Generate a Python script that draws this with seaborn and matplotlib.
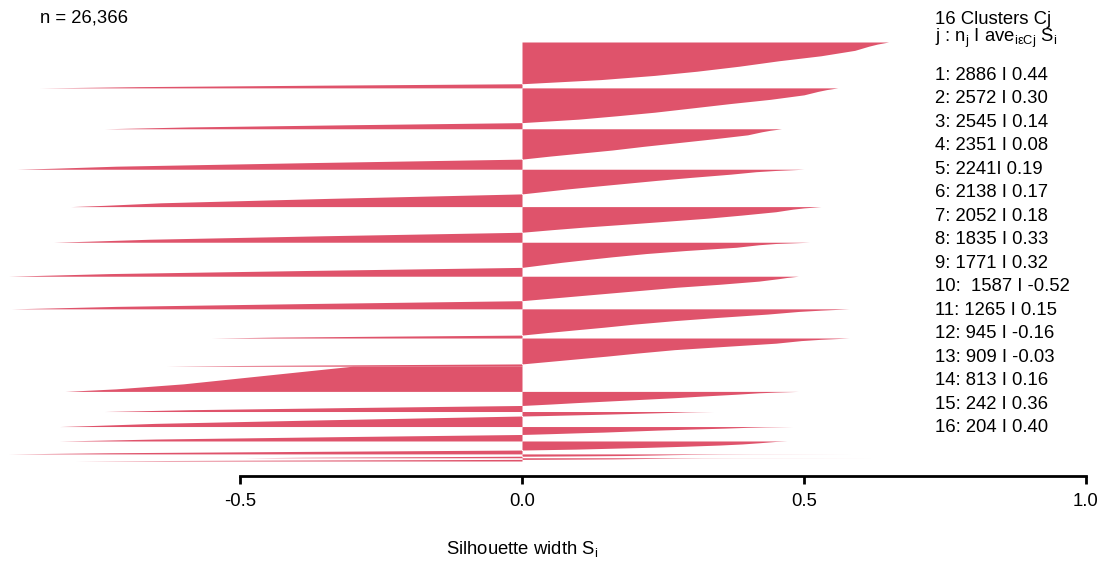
import matplotlib
matplotlib.use("Agg")
import matplotlib.pyplot as plt
import seaborn as sns

# cluster sizes n_j (from the legend)
sizes = [2886, 2572, 2545, 2351, 2241, 2138, 2052, 1835, 1771, 1587, 1265, 945, 909, 813, 242, 204]

legend_lines = ["1: 2886 I 0.44", "2: 2572 I 0.30", "3: 2545 I 0.14", "4: 2351 I 0.08",
                "5: 2241I 0.19", "6: 2138 I 0.17", "7: 2052 I 0.18", "8: 1835 I 0.33",
                "9: 1771 I 0.32", "10:  1587 I -0.52", "11: 1265 I 0.15", "12: 945 I -0.16",
                "13: 909 I -0.03", "14: 813 I 0.16", "15: 242 I 0.36", "16: 204 I 0.40"]

# share of each cluster with positive silhouette
pos_share = [0.91, 0.85, 0.75, 0.66, 0.72, 0.74, 0.75, 0.90, 0.92, 0.0, 0.70, 0.30, 0.55, 0.70, 0.60, 0.50]

# sorted silhouette widths read at fractions of the positive part
pos_grid = [0.0, 0.05, 0.1, 0.2, 0.33, 0.45, 0.58, 0.7, 0.8, 0.9, 1.0]
pos_vals = [
    [0.65, 0.63, 0.615, 0.59, 0.53, 0.455, 0.385, 0.31, 0.235, 0.14, 0.0],
    [0.56, 0.54, 0.525, 0.50, 0.44, 0.37, 0.30, 0.235, 0.17, 0.10, 0.0],
    [0.46, 0.44, 0.425, 0.40, 0.34, 0.28, 0.215, 0.16, 0.105, 0.05, 0.0],
    [0.50, 0.45, 0.415, 0.37, 0.30, 0.24, 0.18, 0.125, 0.08, 0.04, 0.0],
    [0.53, 0.50, 0.48, 0.45, 0.39, 0.33, 0.25, 0.175, 0.11, 0.053, 0.0],
    [0.51, 0.45, 0.42, 0.38, 0.29, 0.22, 0.16, 0.11, 0.07, 0.035, 0.0],
    [0.49, 0.47, 0.455, 0.42, 0.35, 0.275, 0.21, 0.15, 0.10, 0.05, 0.0],
    [0.58, 0.53, 0.49, 0.435, 0.345, 0.27, 0.20, 0.145, 0.095, 0.046, 0.0],
    [0.58, 0.53, 0.495, 0.45, 0.355, 0.27, 0.205, 0.15, 0.10, 0.05, 0.0],
    [],
    [0.49, 0.45, 0.42, 0.38, 0.32, 0.27, 0.205, 0.145, 0.095, 0.05, 0.0],
    [0.34, 0.31, 0.29, 0.265, 0.225, 0.19, 0.15, 0.11, 0.075, 0.04, 0.0],
    [0.48, 0.43, 0.40, 0.36, 0.295, 0.24, 0.19, 0.145, 0.095, 0.05, 0.0],
    [0.47, 0.45, 0.44, 0.42, 0.39, 0.35, 0.29, 0.225, 0.16, 0.095, 0.0],
    [0.59, 0.41, 0.35, 0.30, 0.265, 0.24, 0.21, 0.18, 0.13, 0.07, 0.0],
    [0.63, 0.38, 0.32, 0.28, 0.245, 0.22, 0.19, 0.16, 0.11, 0.06, 0.0],
]

# ... and at fractions of the negative part
neg_grid = [0.0, 0.35, 0.7, 0.9, 1.0]
neg_vals = [
    [0.0, -0.36, -0.68, -0.79, -0.855],
    [0.0, -0.31, -0.59, -0.69, -0.74],
    [0.0, -0.38, -0.72, -0.83, -0.895],
    [0.0, -0.34, -0.64, -0.74, -0.80],
    [0.0, -0.35, -0.66, -0.77, -0.83],
    [0.0, -0.38, -0.73, -0.85, -0.91],
    [0.0, -0.38, -0.72, -0.84, -0.905],
    [0.0, -0.23, -0.44, -0.51, -0.55],
    [0.0, -0.26, -0.50, -0.59, -0.63],
    [-0.30, -0.45, -0.60, -0.72, -0.81],
    [0.0, -0.31, -0.59, -0.69, -0.74],
    [0.0, -0.34, -0.65, -0.76, -0.82],
    [0.0, -0.34, -0.65, -0.76, -0.82],
    [0.0, -0.38, -0.73, -0.85, -0.91],
    [0.0, -0.20, -0.39, -0.46, -0.49],
    [0.0, -0.33, -0.63, -0.74, -0.79],
]

red = "#DF536B"

sns.set_theme(style="white")
plt.rcParams["font.family"] = ["Liberation Sans", "DejaVu Sans"]
plt.rcParams["text.color"] = "black"
plt.rcParams["mathtext.fontset"] = "custom"
plt.rcParams["mathtext.rm"] = "Liberation Sans"
plt.rcParams["mathtext.it"] = "Liberation Sans:italic"

W, H = 1108, 562
fig = plt.figure(figsize=(W / 100, H / 100), dpi=100)
ax = fig.add_axes([0, (H - 461) / H, 1, 419 / H])

total = sum(sizes)
start = 0
for j in range(len(sizes)):
    n = sizes[j]
    npos = pos_share[j] * n
    ys, xs = [], []
    if pos_vals[j]:
        ys += [start + p * npos for p in pos_grid]
        xs += pos_vals[j]
    ys += [start + npos + q * (n - npos) for q in neg_grid]
    xs += neg_vals[j]
    ax.fill_betweenx(ys, 0, xs, color=red, linewidth=0)
    start += n

ax.set_xlim(-522 / 564, (W - 522) / 564)
ax.set_ylim(total, 0)
ax.set_yticks([])
ax.set_xticks([-0.5, 0.0, 0.5, 1.0])
ax.set_xticklabels(["-0.5", "0.0", "0.5", "1.0"])
sns.despine(ax=ax, left=True, top=True, right=True)
ax.spines["bottom"].set_position(("outward", 10.8))
ax.spines["bottom"].set_bounds(-0.5, 1.0)
ax.spines["bottom"].set_linewidth(2.0)
ax.spines["bottom"].set_color("black")
ax.tick_params(axis="x", direction="out", length=5.5, width=2.0, color="black",
               pad=7, labelsize=13.3, labelcolor="black", bottom=True)

fs = 13.3
fig.text(40 / W, 1 - 18 / H, "n = 26,366", fontsize=fs, ha="left", va="center")
fig.text(935 / W, 1 - 19 / H, "16 Clusters Cj", fontsize=fs, ha="left", va="center")
fig.text(935 / W, 1 - 38 / H, r"j : n$_\mathrm{j}$ I ave$_\mathrm{i\epsilon Cj}$ S$_\mathrm{i}$",
         fontsize=fs, ha="left", va="center")
for k, line in enumerate(legend_lines):
    fig.text(935 / W, 1 - (75.5 + k * 23.47) / H, line, fontsize=fs, ha="left", va="center")

fig.text(522 / W, 1 - 549 / H, r"Silhouette width S$_\mathrm{i}$", fontsize=fs, ha="center", va="center")

fig.savefig("out.png", dpi=100)
